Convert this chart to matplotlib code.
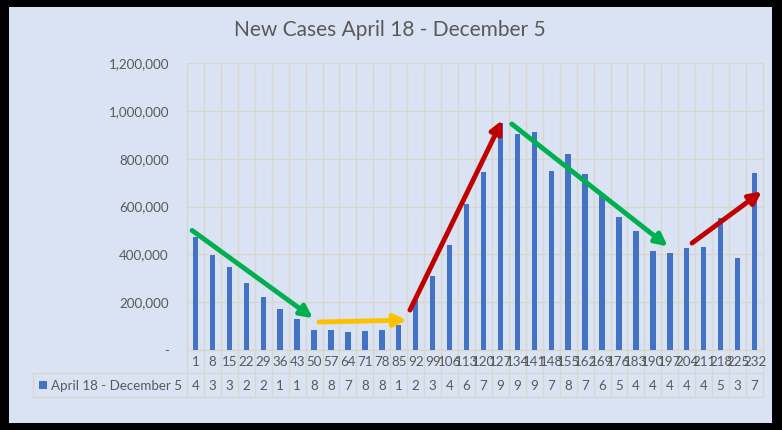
import numpy as np
import matplotlib
matplotlib.use("Agg")
import matplotlib.pyplot as plt
from matplotlib.patches import Rectangle
from matplotlib.transforms import blended_transform_factory

# Datos
dias = [1, 8, 15, 22, 29, 36, 43, 50, 57, 64, 71, 78, 85, 92, 99, 106, 113,
        120, 127, 134, 141, 148, 155, 162, 169, 176, 183, 190, 197, 204, 211,
        218, 225, 232]
casos = [472000, 396000, 346000, 279000, 221000, 171000, 129000, 83000, 83000,
         75000, 81000, 83000, 103000, 211000, 308000, 437000, 612000, 746000,
         949000, 904000, 912000, 750000, 821000, 737000, 648000, 558000, 496000,
         412000, 404000, 425000, 429000, 554000, 383000, 742000]
serie = "April 18 - December 5"
titulo = "New Cases April 18 - December 5"
yticks = [0, 200000, 400000, 600000, 800000, 1000000, 1200000]

# Flechas de tendencia: (x inicio, y inicio, x fin, y fin, color)
flechas = [
    (-0.2, 500000, 6.94, 133000, "#00B050"),
    (7.29, 117000, 12.47, 125000, "#FFC000"),
    (12.66, 167000, 18.11, 961000, "#C00000"),
    (18.67, 945000, 27.88, 433000, "#00B050"),
    (29.31, 447000, 33.43, 663000, "#C00000"),
]

fondo = "#DAE3F3"
gris = "#595959"
linea = "#D9D5CF"
azul = "#4472C4"
fs = 9.6
plt.rcParams["font.family"] = ["Lato", "DejaVu Sans"]

W, H = 782, 430
fig = plt.figure(figsize=(W / 100, H / 100), dpi=100, facecolor="black")
# fondo azul claro dentro del borde negro
bg = fig.add_axes([9 / W, 1 - 423 / H, (772 - 9) / W, (423 - 7) / H], zorder=-1)
bg.set_facecolor(fondo)
bg.set_xticks([])
bg.set_yticks([])
for s in bg.spines.values():
    s.set_visible(False)

L, R, T, B = 187, 763, 63, 350
ax = fig.add_axes([L / W, 1 - B / H, (R - L) / W, (B - T) / H])
ax.set_facecolor("none")

n = len(dias)
x = np.arange(n)
ax.bar(x, casos, width=0.32, color=azul, zorder=3)

ax.set_xlim(-0.5, n - 0.5)
ax.set_ylim(0, 1200000)
ax.set_yticks(yticks)
ax.set_yticklabels(["-" if v == 0 else f"{v:,}" for v in yticks])
ax.tick_params(axis="y", length=0, pad=13, labelsize=fs, labelcolor=gris)
ax.set_xticks([])
ax.yaxis.grid(True, color=linea, lw=1, zorder=0)
for s in ax.spines.values():
    s.set_visible(False)

# lineas verticales (limites de categorias) y tabla de datos
tr = blended_transform_factory(ax.transData, fig.transFigure)
fy = lambda py: 1 - py / H
for b in np.arange(-0.5, n, 1.0):
    ax.plot([b, b], [fy(T), fy(397)], transform=tr, color=linea, lw=1,
            clip_on=False, zorder=1)
x0 = (33 - L) / ((R - L) / n) - 0.5
for py in [350, 373, 397]:
    xs = -0.5 if py == 350 else x0
    ax.plot([xs, n - 0.5], [fy(py), fy(py)], transform=tr, color=linea, lw=1,
            clip_on=False, zorder=1)
ax.plot([x0, x0], [fy(373), fy(397)], transform=tr, color=linea, lw=1,
        clip_on=False)

for i in range(n):
    ax.text(i, fy(362), str(dias[i]), transform=tr, ha="center", va="center",
            fontsize=fs, color=gris)
    ax.text(i, fy(385.5), str(casos[i])[0], transform=tr, ha="center",
            va="center", fontsize=fs, color=gris)

ax.add_patch(Rectangle((39 / W, fy(389)), 8 / W, 8 / H,
                       transform=fig.transFigure, facecolor=azul,
                       edgecolor="none", clip_on=False))
fig.text(51 / W, fy(385.5), serie, ha="left", va="center", fontsize=fs,
         color=gris)

# flechas
for x1, y1, x2, y2, c in flechas:
    ax.annotate("", xy=(x2, y2), xytext=(x1, y1),
                arrowprops=dict(arrowstyle="-|>", color=c, lw=3.5,
                                mutation_scale=18, shrinkA=0, shrinkB=0),
                zorder=5, annotation_clip=False)

fig.text(390 / W, fy(30), titulo, ha="center", va="center", fontsize=15,
         color=gris)

fig.savefig("out.png", dpi=100, facecolor="black")
